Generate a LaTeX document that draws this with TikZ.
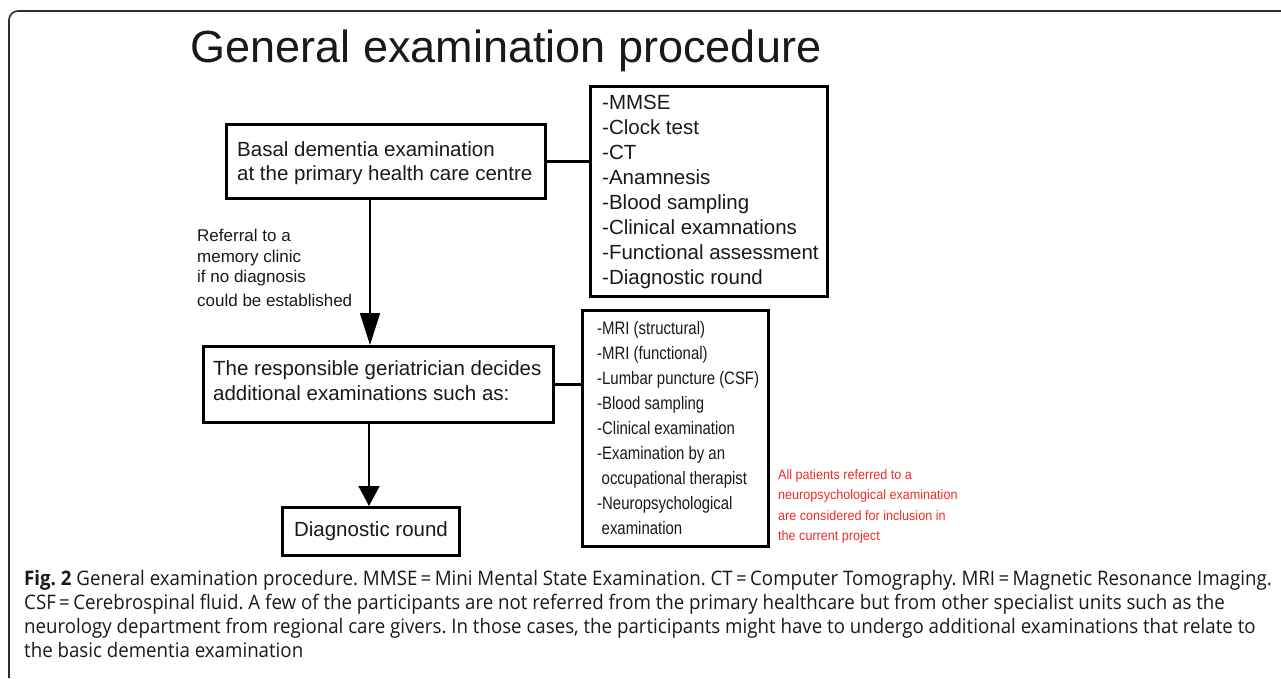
\documentclass[tikz,border=0pt]{standalone}
\usepackage{fontspec}
\setmainfont{Liberation Sans}
\newfontfamily\narrowfont{Liberation Sans}[FakeStretch=0.83]
\newfontfamily\redfont{Liberation Sans}[FakeStretch=0.92]
\newfontfamily\capfont{Open Sans}[FakeStretch=0.935]
\usetikzlibrary{arrows.meta}
\frenchspacing
\definecolor{ink}{RGB}{25,25,25}
\definecolor{redtxt}{RGB}{235,45,35}
\definecolor{frame}{RGB}{45,45,45}
\tikzset{
  boxstyle/.style={draw=black, line width=3pt, inner sep=0pt, anchor=north west},
  txt/.style={inner sep=0pt, anchor=north west, align=left, text=ink},
  link/.style={draw=black, line width=2.6pt},
  arr/.style={draw=black, line width=1.6pt},
}
\begin{document}
\begin{tikzpicture}[x=1pt,y=-1pt]
\useasboundingbox (0,0) rectangle (1281,678);
% outer frame
\draw[frame, line width=1.6pt, rounded corners=9pt] (9,678) -- (9,11) -- (1285,11);
% title
\node[anchor=base, inner sep=0pt, text=ink, font=\fontsize{45}{50}\selectfont] (title) at (506,62) {General examination procedure};
% boxes
\node[boxstyle, minimum width=319pt, minimum height=74pt] (b1) at (225,123) {};
\node[boxstyle, minimum width=237pt, minimum height=210pt] (l1) at (589,85) {};
\node[boxstyle, minimum width=350pt, minimum height=76pt] (b2) at (202,345) {};
\node[boxstyle, minimum width=186pt, minimum height=236pt] (l2) at (581,309) {};
\node[boxstyle, minimum width=177pt, minimum height=48pt] (b3) at (281,506) {};
% texts
\node[txt, font=\fontsize{20.5}{24}\selectfont] (t1) at (237,141) {Basal dementia examination\\at the primary health care centre};
\node[txt, font=\fontsize{20.5}{25}\selectfont] (tl1) at (602,95) {-MMSE\\-Clock test\\-CT\\-Anamnesis\\-Blood sampling\\-Clinical examnations\\-Functional assessment\\-Diagnostic round};
\node[txt, font=\fontsize{20.5}{25}\selectfont] (t2) at (213,360) {The responsible geriatrician decides\\additional examinations such as:};
\node[inner sep=0pt, text=ink, font=\fontsize{20.5}{25}\selectfont] (t3) at (b3.center) {Diagnostic round};
\node[txt, font=\narrowfont\fontsize{18}{25}\selectfont] (tl2) at (597,321) {-MRI (structural)\\-MRI (functional)\\-Lumbar puncture (CSF)\\-Blood sampling\\-Clinical examination\\-Examination by an\\\hspace{4.5pt}occupational therapist\\-Neuropsychological\\\hspace{4.5pt}examination};
\node[txt, font=\fontsize{17}{20.5}\selectfont] (ref) at (197,229) {Referral to a\\memory clinic\\if no diagnosis\\[3pt]could be established};
\node[txt, text=redtxt, font=\redfont\fontsize{13.7}{20.5}\selectfont] (red) at (778,469) {All patients referred to a\\neuropsychological examination\\are considered for inclusion in\\the current project};
\node[txt, font=\capfont\fontsize{20}{24}\selectfont] (cap) at (24,570) {\textbf{Fig. 2} General examination procedure. MMSE\,=\,Mini Mental State Examination. CT\,=\,Computer Tomography. MRI\,=\,Magnetic Resonance Imaging.\\CSF\,=\,Cerebrospinal fluid. A few of the participants are not referred from the primary healthcare but from other specialist units such as the\\neurology department from regional care givers. In those cases, the participants might have to undergo additional examinations that relate to\\the basic dementia examination};
% connectors
\draw[link] (b1.east) -- (b1.east -| l1.west);
\draw[link] (b2.east) -- (b2.east -| l2.west);
\draw[arr, -{Triangle[length=32pt,width=20pt]}] (b1.south -| 370,0) -- (b2.north -| 370,0);
\draw[arr, -{Triangle[length=20pt,width=21pt]}] (b2.south -| 369,0) -- (b3.north -| 369,0);
\end{tikzpicture}
\end{document}
